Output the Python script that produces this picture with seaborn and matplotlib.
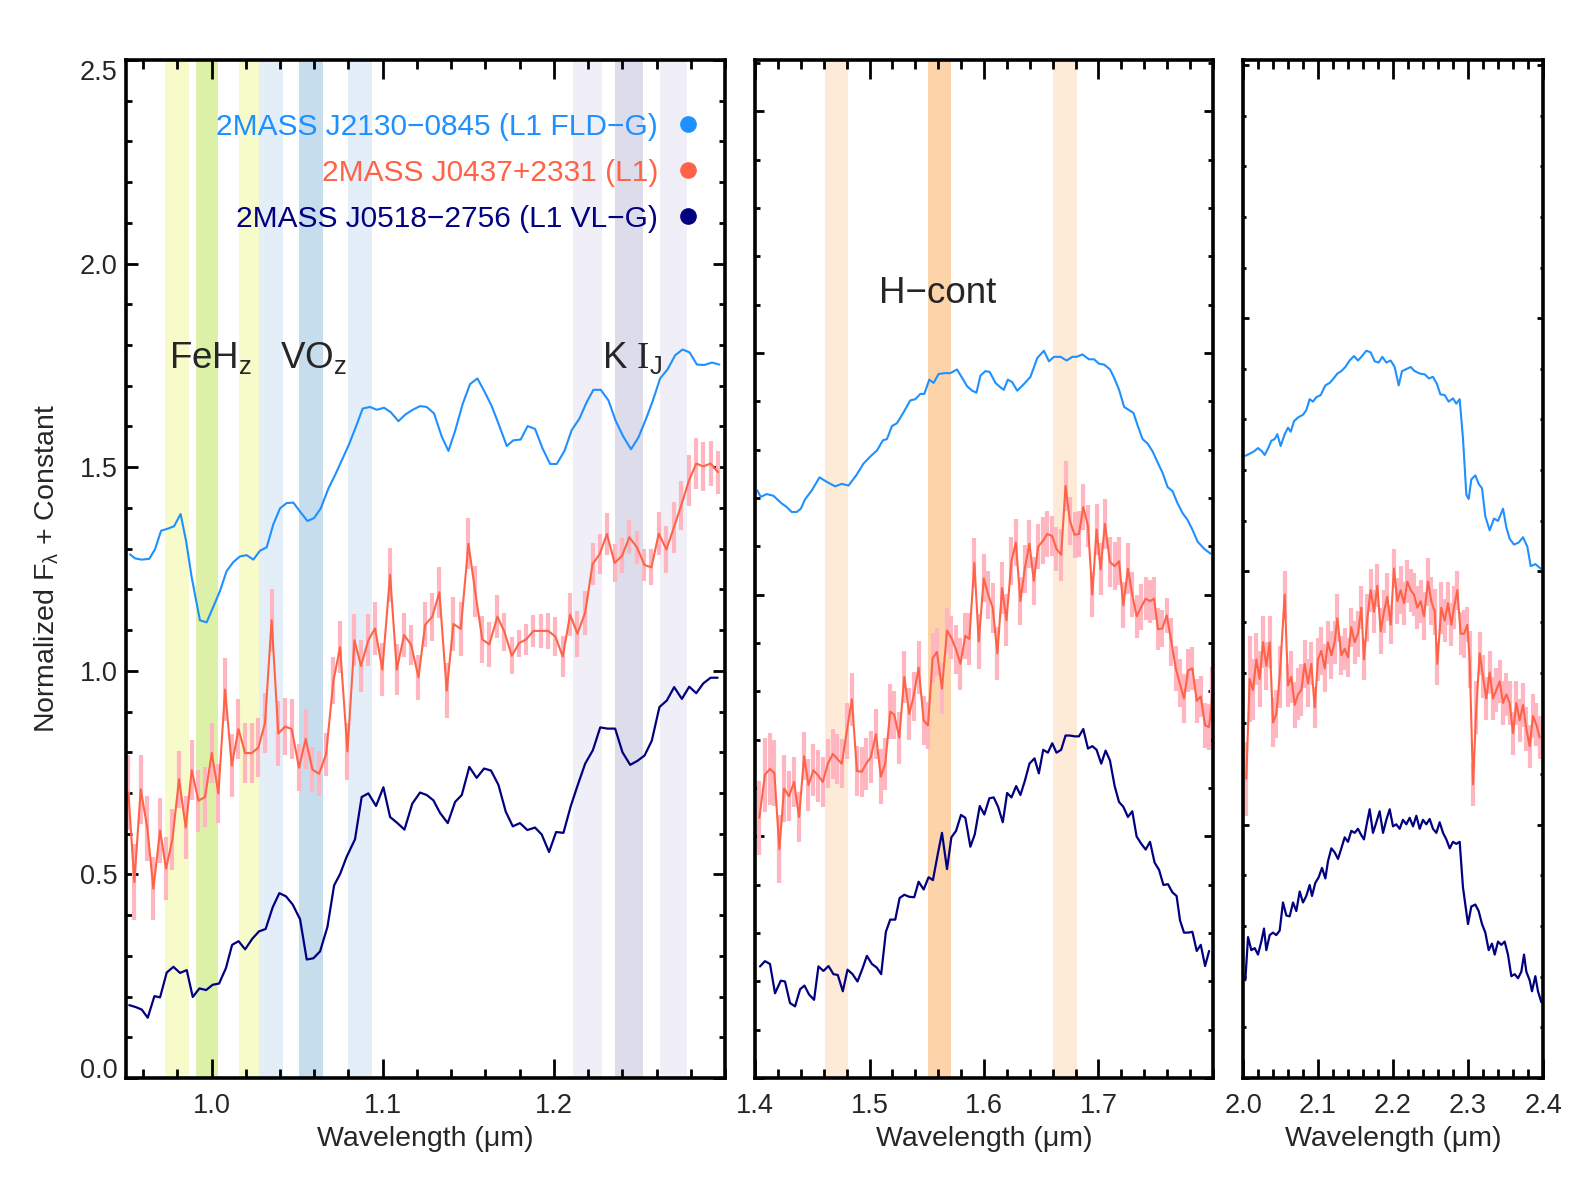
import numpy as np
import matplotlib
matplotlib.use("Agg")
import matplotlib.pyplot as plt
import seaborn as sns
from matplotlib.ticker import FixedLocator, MultipleLocator
from matplotlib.lines import Line2D

# ---------------- data ----------------
names = ["2MASS J2130\u22120845 (L1 FLD\u2212G)", "2MASS J0437+2331 (L1)", "2MASS J0518\u22122756 (L1 VL\u2212G)"]
colors = ["#1E90FF", "#FF6347", "#000080"]
err_color = "#FFB6C1"

# zJ panel
zj_wl_fld = [0.9523, 0.9553, 0.9592, 0.9636, 0.9669, 0.9705, 0.9744, 0.9781, 0.9819, 0.9851,
             0.9884, 0.9932, 0.9971, 1.0010, 1.0049, 1.0088, 1.0127, 1.0166, 1.0205, 1.0244,
             1.0283, 1.0322, 1.0361, 1.0400, 1.0439, 1.0478, 1.0517, 1.0560, 1.0599, 1.0638,
             1.0683, 1.0722, 1.0760, 1.0803, 1.0844, 1.0883, 1.0926, 1.0965, 1.1008, 1.1047,
             1.1092, 1.1131, 1.1175,
             1.1218, 1.1257, 1.1300, 1.1345, 1.1384, 1.1423, 1.1467, 1.1510, 1.1553, 1.1592,
             1.1637, 1.1680, 1.1725, 1.1763, 1.1806, 1.1847, 1.1890, 1.1933, 1.1978, 1.2017,
             1.2062, 1.2104, 1.2149, 1.2192, 1.2231, 1.2274, 1.2319, 1.2362, 1.2406, 1.2451,
             1.2494, 1.2537, 1.2578, 1.2621, 1.2664, 1.2709, 1.2752, 1.2793, 1.2836, 1.2879,
             1.2924, 1.2967]
zj_fl_fld = [1.286, 1.276, 1.273, 1.275, 1.298, 1.344, 1.349, 1.355, 1.385, 1.319,
             1.229, 1.124, 1.119, 1.157, 1.196, 1.245, 1.267, 1.281, 1.284, 1.273,
             1.295, 1.303, 1.360, 1.399, 1.412, 1.413, 1.391, 1.368, 1.375, 1.399,
             1.448, 1.481, 1.516, 1.556, 1.600, 1.644, 1.648, 1.641, 1.646, 1.635,
             1.613, 1.629, 1.641,
             1.650, 1.648, 1.632, 1.575, 1.540, 1.589, 1.655, 1.704, 1.718, 1.688,
             1.650, 1.603, 1.552, 1.566, 1.568, 1.601, 1.594, 1.547, 1.508, 1.508,
             1.540, 1.591, 1.619, 1.660, 1.690, 1.690, 1.664, 1.613, 1.575, 1.544,
             1.573, 1.617, 1.663, 1.718, 1.740, 1.775, 1.789, 1.782, 1.752, 1.751,
             1.757, 1.752]

zj_wl_fg = [0.9514, 0.9549, 0.9586, 0.9625, 0.9660, 0.9699, 0.9734, 0.9771, 0.9810, 0.9849,
            0.9884, 0.9923, 0.9962, 1.0001, 1.0040, 1.0079, 1.0118, 1.0157, 1.0196, 1.0234,
            1.0273, 1.0312, 1.0351, 1.0390, 1.0429, 1.0468, 1.0511, 1.0550, 1.0589, 1.0628,
            1.0669, 1.0712, 1.0751, 1.0794, 1.0835, 1.0873, 1.0916, 1.0955, 1.0998, 1.1043,
            1.1082, 1.1125, 1.1166, 1.1209, 1.1248,
            1.1290, 1.1331, 1.1374, 1.1413, 1.1456, 1.1501, 1.1540, 1.1582, 1.1623, 1.1670,
            1.1711, 1.1754, 1.1797, 1.1838, 1.1881, 1.1924, 1.1967, 1.2009, 1.2052, 1.2095,
            1.2138, 1.2183, 1.2226, 1.2267, 1.2310, 1.2355, 1.2398, 1.2441, 1.2486, 1.2529,
            1.2570, 1.2613, 1.2658, 1.2701, 1.2744, 1.2789, 1.2832, 1.2873, 1.2916, 1.2959]
zj_fl_fg = [0.701, 0.481, 0.709, 0.613, 0.465, 0.608, 0.514, 0.586, 0.734, 0.615,
            0.756, 0.681, 0.690, 0.798, 0.699, 0.954, 0.767, 0.857, 0.798, 0.798,
            0.811, 0.871, 1.124, 0.846, 0.863, 0.857, 0.762, 0.833, 0.758, 0.747,
            0.795, 0.976, 1.058, 0.802, 1.075, 1.012, 1.075, 1.104, 1.003, 1.236,
            1.003, 1.088, 1.064, 0.984, 1.113,
            1.133, 1.193, 0.951, 1.115, 1.103, 1.312, 1.195, 1.077, 1.065, 1.133,
            1.096, 1.037, 1.068, 1.077, 1.098, 1.098, 1.098, 1.084, 1.035, 1.138,
            1.091, 1.143, 1.262, 1.286, 1.336, 1.265, 1.282, 1.328, 1.303, 1.260,
            1.254, 1.337, 1.298, 1.352, 1.406, 1.467, 1.509, 1.502, 1.509, 1.488]
zj_er_fg = [0.091, 0.093, 0.084, 0.079, 0.077, 0.079, 0.077, 0.074, 0.070, 0.078,
            0.074, 0.076, 0.074, 0.074, 0.073, 0.078, 0.077, 0.073, 0.074, 0.074,
            0.073, 0.074, 0.077, 0.080, 0.069, 0.073, 0.058, 0.073, 0.055, 0.055,
            0.053, 0.057, 0.064, 0.071, 0.064, 0.063, 0.064, 0.064, 0.065, 0.066,
            0.063, 0.053, 0.049, 0.055, 0.055,
            0.059, 0.063, 0.068, 0.067, 0.067, 0.063, 0.063, 0.058, 0.055, 0.052,
            0.047, 0.045, 0.033, 0.038, 0.039, 0.042, 0.044, 0.048, 0.051, 0.053,
            0.057, 0.054, 0.051, 0.049, 0.052, 0.047, 0.043, 0.042, 0.041, 0.039,
            0.044, 0.052, 0.058, 0.063, 0.061, 0.062, 0.062, 0.060, 0.055, 0.053]

zj_wl_vlg = [0.9519, 0.9558, 0.9592, 0.9627, 0.9666, 0.9699, 0.9738, 0.9777, 0.9816, 0.9855,
             0.9890, 0.9929, 0.9968, 1.0007, 1.0044, 1.0084, 1.0120, 1.0158, 1.0196, 1.0238,
             1.0277, 1.0316, 1.0357, 1.0396, 1.0435, 1.0474, 1.0517, 1.0556, 1.0595, 1.0634,
             1.0677, 1.0716, 1.0751, 1.0790, 1.0838, 1.0877, 1.0916, 1.0961, 1.1004, 1.1043,
             1.1086, 1.1127, 1.1173,
             1.1218, 1.1257, 1.1296, 1.1335, 1.1380, 1.1423, 1.1462, 1.1506, 1.1549, 1.1592,
             1.1633, 1.1676, 1.1719, 1.1760, 1.1802, 1.1845, 1.1890, 1.1929, 1.1972, 1.2013,
             1.2056, 1.2099, 1.2140, 1.2183, 1.2228, 1.2271, 1.2314, 1.2358, 1.2401, 1.2446,
             1.2489, 1.2530, 1.2572, 1.2617, 1.2660, 1.2703, 1.2748, 1.2791, 1.2832, 1.2873,
             1.2916, 1.2957]
zj_fl_vlg = [0.179, 0.174, 0.168, 0.148, 0.201, 0.198, 0.259, 0.273, 0.258, 0.265,
             0.199, 0.220, 0.216, 0.229, 0.232, 0.270, 0.327, 0.336, 0.316, 0.342,
             0.360, 0.366, 0.419, 0.454, 0.446, 0.426, 0.390, 0.291, 0.294, 0.311,
             0.371, 0.473, 0.501, 0.544, 0.586, 0.690, 0.699, 0.668, 0.714, 0.641,
             0.626, 0.610, 0.674,
             0.701, 0.695, 0.682, 0.651, 0.626, 0.678, 0.695, 0.764, 0.737, 0.760,
             0.755, 0.720, 0.654, 0.618, 0.626, 0.609, 0.615, 0.598, 0.555, 0.604,
             0.602, 0.668, 0.720, 0.772, 0.805, 0.861, 0.858, 0.858, 0.800, 0.769,
             0.779, 0.792, 0.828, 0.911, 0.927, 0.960, 0.931, 0.961, 0.945, 0.969,
             0.983, 0.983]

# H panel
h_wl_fld = [1.4020, 1.4050, 1.4102, 1.4160, 1.4233, 1.4277, 1.4321, 1.4364, 1.4400, 1.4437,
            1.4496, 1.4563, 1.4627, 1.4700, 1.4758, 1.4817, 1.4884, 1.4948, 1.5006, 1.5065,
            1.5117, 1.5152, 1.5196, 1.5240, 1.5298, 1.5356, 1.5400, 1.5444, 1.5479, 1.5522,
            1.5560, 1.5604, 1.5662, 1.5706, 1.5764, 1.5808, 1.5852, 1.5896, 1.5934, 1.5969,
            1.6012, 1.6050, 1.6100, 1.6144, 1.6173, 1.6208, 1.6246, 1.6290, 1.6348, 1.6406,
            1.6465, 1.6523, 1.6567, 1.6611, 1.6669, 1.6722, 1.6771, 1.6809, 1.6859, 1.6917,
            1.6961, 1.7005, 1.7049, 1.7101, 1.7136, 1.7180, 1.7224, 1.7268, 1.7306, 1.7341,
            1.7385, 1.7429, 1.7472, 1.7516, 1.7560, 1.7604, 1.7647, 1.7691, 1.7735, 1.7779,
            1.7823, 1.7866, 1.7925, 1.7977]
h_fl_fld = [1.443, 1.427, 1.434, 1.430, 1.411, 1.402, 1.390, 1.390, 1.398, 1.421,
            1.443, 1.475, 1.464, 1.453, 1.459, 1.455, 1.480, 1.509, 1.526, 1.541,
            1.566, 1.569, 1.601, 1.608, 1.635, 1.664, 1.667, 1.680, 1.680, 1.715,
            1.707, 1.729, 1.731, 1.731, 1.740, 1.720, 1.699, 1.688, 1.683, 1.725,
            1.736, 1.734, 1.707, 1.696, 1.690, 1.715, 1.709, 1.688, 1.704, 1.722,
            1.768, 1.786, 1.760, 1.771, 1.771, 1.762, 1.771, 1.771, 1.777, 1.765,
            1.765, 1.754, 1.752, 1.740, 1.720, 1.690, 1.648, 1.640, 1.633, 1.603,
            1.569, 1.558, 1.539, 1.512, 1.486, 1.451, 1.441, 1.411, 1.387, 1.370,
            1.345, 1.317, 1.299, 1.288]

h_wl_fg = [1.4038, 1.4087, 1.4131, 1.4169, 1.4213, 1.4254, 1.4297, 1.4341, 1.4385, 1.4429,
           1.4467, 1.4510, 1.4554, 1.4592, 1.4636, 1.4680, 1.4720, 1.4758, 1.4802, 1.4846,
           1.4890, 1.4933, 1.4971, 1.5012, 1.5056, 1.5099, 1.5137, 1.5181, 1.5216, 1.5260,
           1.5304, 1.5347, 1.5385, 1.5429, 1.5473, 1.5511, 1.5551, 1.5589, 1.5633, 1.5677,
           1.5715, 1.5756, 1.5794, 1.5837, 1.5872, 1.5916, 1.5954, 1.5998, 1.6036, 1.6076,
           1.6117, 1.6158, 1.6196, 1.6240, 1.6278, 1.6318, 1.6356, 1.6397, 1.6435, 1.6473,
           1.6517, 1.6552, 1.6596, 1.6633, 1.6674, 1.6712, 1.6750, 1.6791, 1.6829, 1.6867,
           1.6908, 1.6946, 1.6983, 1.7018, 1.7056, 1.7100, 1.7141, 1.7179, 1.7217, 1.7257,
           1.7295, 1.7333, 1.7374, 1.7412, 1.7450, 1.7485, 1.7520, 1.7558, 1.7596, 1.7637,
           1.7675, 1.7710, 1.7747, 1.7782, 1.7820, 1.7858, 1.7893, 1.7931, 1.7966, 1.7995]
h_fl_fg = [0.639, 0.745, 0.759, 0.749, 0.562, 0.711, 0.692, 0.727, 0.641, 0.790,
           0.719, 0.756, 0.742, 0.727, 0.772, 0.796, 0.783, 0.772, 0.852, 0.930,
           0.754, 0.752, 0.772, 0.788, 0.844, 0.740, 0.772, 0.900, 0.892, 0.836,
           0.985, 0.894, 0.937, 1.008, 0.878, 0.866, 1.031, 1.046, 0.956, 1.099,
           1.081, 1.052, 1.017, 1.086, 1.078, 1.265, 1.072, 1.227, 1.187, 1.155,
           1.043, 1.203, 1.124, 1.269, 1.315, 1.171, 1.251, 1.312, 1.221, 1.305,
           1.320, 1.336, 1.331, 1.299, 1.285, 1.454, 1.368, 1.334, 1.336, 1.402,
           1.356, 1.187, 1.347, 1.249, 1.361, 1.267, 1.257, 1.269, 1.161, 1.251,
           1.187, 1.134, 1.157, 1.177, 1.171, 1.177, 1.102, 1.104, 1.136, 1.070,
           1.006, 0.969, 0.932, 1.001, 1.006, 0.926, 0.937, 0.866, 0.862, 0.942]
h_er_fg = [0.091, 0.091, 0.088, 0.080, 0.083, 0.083, 0.061, 0.061, 0.061, 0.059,
           0.064, 0.064, 0.064, 0.061, 0.061, 0.061, 0.061, 0.061, 0.069, 0.065,
           0.062, 0.061, 0.064, 0.064, 0.061, 0.067, 0.064, 0.068, 0.059, 0.064,
           0.064, 0.064, 0.061, 0.064, 0.060, 0.057, 0.061, 0.059, 0.063, 0.056,
           0.053, 0.061, 0.064, 0.056, 0.064, 0.061, 0.067, 0.059, 0.059, 0.061,
           0.065, 0.064, 0.064, 0.059, 0.058, 0.059, 0.059, 0.059, 0.059, 0.056,
           0.058, 0.057, 0.048, 0.053, 0.064, 0.061, 0.059, 0.056, 0.056, 0.056,
           0.052, 0.056, 0.062, 0.064, 0.061, 0.061, 0.059, 0.059, 0.056, 0.062,
           0.056, 0.053, 0.056, 0.053, 0.053, 0.053, 0.051, 0.045, 0.043, 0.059,
           0.056, 0.059, 0.061, 0.053, 0.053, 0.053, 0.051, 0.056, 0.056, 0.067]

h_wl_vlg = [1.4044, 1.4087, 1.4131, 1.4175, 1.4225, 1.4262, 1.4306, 1.4350, 1.4394, 1.4432,
            1.4472, 1.4516, 1.4554, 1.4598, 1.4642, 1.4685, 1.4723, 1.4767, 1.4808, 1.4852,
            1.4895, 1.4939, 1.4977, 1.5021, 1.5064, 1.5102, 1.5143, 1.5181, 1.5225, 1.5263,
            1.5304, 1.5347, 1.5391, 1.5429, 1.5473, 1.5516, 1.5554, 1.5595, 1.5633, 1.5677,
            1.5715, 1.5756, 1.5799, 1.5837, 1.5881, 1.5919, 1.5963, 1.6003, 1.6047, 1.6085,
            1.6123, 1.6164, 1.6202, 1.6240, 1.6281, 1.6318, 1.6356, 1.6397, 1.6441, 1.6479,
            1.6517, 1.6558, 1.6596, 1.6633, 1.6674, 1.6712, 1.6750, 1.6791, 1.6829, 1.6867,
            1.6908, 1.6946, 1.6983, 1.7024, 1.7062, 1.7100, 1.7141, 1.7179, 1.7217, 1.7257,
            1.7295, 1.7333, 1.7374, 1.7412, 1.7450, 1.7490, 1.7529, 1.7567, 1.7607, 1.7645,
            1.7682, 1.7712, 1.7747, 1.7782, 1.7820, 1.7858, 1.7893, 1.7931, 1.7966]
h_fl_vlg = [0.274, 0.287, 0.280, 0.208, 0.239, 0.237, 0.184, 0.176, 0.218, 0.227,
            0.205, 0.192, 0.274, 0.263, 0.275, 0.255, 0.253, 0.213, 0.266, 0.255,
            0.237, 0.269, 0.300, 0.280, 0.271, 0.255, 0.359, 0.389, 0.389, 0.442,
            0.450, 0.445, 0.444, 0.482, 0.463, 0.493, 0.486, 0.548, 0.602, 0.513,
            0.591, 0.607, 0.646, 0.639, 0.568, 0.598, 0.668, 0.647, 0.687, 0.689,
            0.666, 0.628, 0.700, 0.689, 0.717, 0.695, 0.729, 0.772, 0.785, 0.748,
            0.806, 0.799, 0.822, 0.799, 0.806, 0.841, 0.841, 0.839, 0.839, 0.857,
            0.809, 0.815, 0.806, 0.772, 0.804, 0.780, 0.717, 0.678, 0.666, 0.641,
            0.655, 0.593, 0.575, 0.561, 0.580, 0.529, 0.511, 0.474, 0.476, 0.456,
            0.447, 0.387, 0.357, 0.357, 0.359, 0.312, 0.327, 0.275, 0.312]

# K panel
k_wl_fld = [2.0031, 2.0089, 2.0147, 2.0200, 2.0253, 2.0289, 2.0342, 2.0378, 2.0422, 2.0458,
            2.0502, 2.0556, 2.0600, 2.0636, 2.0680, 2.0733, 2.0800, 2.0844, 2.0889, 2.0933,
            2.0978, 2.1036, 2.1098, 2.1156, 2.1209, 2.1258, 2.1311, 2.1364, 2.1422, 2.1480,
            2.1533, 2.1587, 2.1644, 2.1702, 2.1756, 2.1809, 2.1858, 2.1911, 2.1969, 2.2022,
            2.2076, 2.2120, 2.2178, 2.2236, 2.2289, 2.2356, 2.2422, 2.2480, 2.2533, 2.2587,
            2.2631, 2.2689, 2.2742, 2.2800, 2.2844, 2.2889, 2.2933, 2.2978, 2.3009, 2.3044,
            2.3098, 2.3142, 2.3187, 2.3231, 2.3289, 2.3347, 2.3400, 2.3467, 2.3511, 2.3556,
            2.3613, 2.3676, 2.3733, 2.3791, 2.3836, 2.3898, 2.3969]
k_fl_fld = [1.528, 1.533, 1.539, 1.547, 1.539, 1.530, 1.549, 1.565, 1.569, 1.581,
            1.552, 1.581, 1.597, 1.587, 1.613, 1.622, 1.629, 1.640, 1.667, 1.661,
            1.672, 1.677, 1.701, 1.707, 1.718, 1.730, 1.736, 1.746, 1.762, 1.773,
            1.762, 1.773, 1.786, 1.782, 1.760, 1.757, 1.771, 1.757, 1.762, 1.746,
            1.701, 1.736, 1.741, 1.746, 1.736, 1.730, 1.728, 1.718, 1.722, 1.704,
            1.679, 1.677, 1.661, 1.669, 1.656, 1.667, 1.571, 1.432, 1.422, 1.470,
            1.480, 1.459, 1.448, 1.379, 1.345, 1.374, 1.368, 1.398, 1.352, 1.324,
            1.310, 1.315, 1.328, 1.305, 1.257, 1.262, 1.251]

k_wl_fg = [2.0044, 2.0089, 2.0133, 2.0178, 2.0222, 2.0267, 2.0311, 2.0356, 2.0400, 2.0444,
           2.0489, 2.0556, 2.0600, 2.0644, 2.0689, 2.0733, 2.0778, 2.0822, 2.0867, 2.0911,
           2.0956, 2.1000, 2.1044, 2.1089, 2.1133, 2.1178, 2.1222, 2.1258, 2.1311, 2.1356,
           2.1400, 2.1444, 2.1489, 2.1533, 2.1578, 2.1613, 2.1658, 2.1702, 2.1747, 2.1791,
           2.1836, 2.1880, 2.1924, 2.1969, 2.2013, 2.2058, 2.2102, 2.2147, 2.2191, 2.2236,
           2.2280, 2.2324, 2.2369, 2.2413, 2.2467, 2.2511, 2.2556, 2.2591, 2.2644, 2.2689,
           2.2733, 2.2778, 2.2813, 2.2858, 2.2902, 2.2947, 2.2991, 2.3022, 2.3067, 2.3111,
           2.3156, 2.3200, 2.3244, 2.3289, 2.3333, 2.3378, 2.3422, 2.3467, 2.3511, 2.3556,
           2.3600, 2.3644, 2.3689, 2.3733, 2.3778, 2.3822, 2.3867, 2.3911, 2.3956]
k_fl_fg = [0.735, 0.980, 0.953, 1.028, 0.980, 1.070, 1.012, 1.070, 0.873, 0.894,
           0.985, 1.187, 0.964, 0.985, 0.916, 0.942, 0.953, 1.017, 0.969, 1.017,
           0.910, 1.028, 1.049, 1.006, 1.070, 1.038, 1.070, 1.129, 1.038, 1.054,
           1.033, 1.107, 1.070, 1.091, 1.155, 1.028, 1.129, 1.198, 1.145, 1.209,
           1.097, 1.145, 1.182, 1.113, 1.251, 1.171, 1.198, 1.166, 1.219, 1.198,
           1.187, 1.155, 1.171, 1.134, 1.219, 1.171, 1.145, 1.017, 1.155, 1.123,
           1.166, 1.113, 1.155, 1.198, 1.091, 1.091, 1.113, 1.028, 0.721, 0.910,
           1.043, 0.985, 0.932, 0.996, 0.932, 0.953, 0.974, 0.921, 0.942, 0.921,
           0.847, 0.921, 0.878, 0.916, 0.857, 0.815, 0.889, 0.868, 0.836]
k_er_fg = [0.091, 0.106, 0.075, 0.064, 0.069, 0.064, 0.059, 0.064, 0.059, 0.059,
           0.077, 0.059, 0.053, 0.064, 0.056, 0.064, 0.064, 0.059, 0.059, 0.053,
           0.051, 0.053, 0.059, 0.059, 0.053, 0.059, 0.053, 0.059, 0.048, 0.051,
           0.048, 0.048, 0.053, 0.056, 0.053, 0.051, 0.059, 0.053, 0.053, 0.053,
           0.056, 0.053, 0.059, 0.048, 0.048, 0.056, 0.059, 0.053, 0.053, 0.053,
           0.053, 0.053, 0.053, 0.059, 0.059, 0.059, 0.056, 0.053, 0.064, 0.053,
           0.053, 0.053, 0.053, 0.048, 0.053, 0.059, 0.043, 0.070, 0.053, 0.064,
           0.053, 0.053, 0.053, 0.053, 0.053, 0.053, 0.053, 0.053, 0.053, 0.053,
           0.053, 0.053, 0.053, 0.053, 0.053, 0.053, 0.053, 0.053, 0.053]

k_wl_vlg = [2.0031, 2.0067, 2.0111, 2.0156, 2.0200, 2.0244, 2.0280, 2.0311, 2.0356, 2.0400,
            2.0444, 2.0489, 2.0533, 2.0578, 2.0622, 2.0667, 2.0711, 2.0756, 2.0800, 2.0844,
            2.0889, 2.0920, 2.0964, 2.1009, 2.1053, 2.1098, 2.1133, 2.1178, 2.1222, 2.1267,
            2.1311, 2.1356, 2.1400, 2.1444, 2.1489, 2.1533, 2.1578, 2.1613, 2.1644, 2.1689,
            2.1733, 2.1778, 2.1822, 2.1867, 2.1911, 2.1956, 2.2000, 2.2044, 2.2089, 2.2133,
            2.2178, 2.2222, 2.2267, 2.2311, 2.2356, 2.2400, 2.2444, 2.2489, 2.2533, 2.2578,
            2.2622, 2.2667, 2.2711, 2.2756, 2.2800, 2.2844, 2.2889, 2.2933, 2.3000, 2.3044,
            2.3098, 2.3142, 2.3187, 2.3231, 2.3276, 2.3320, 2.3356, 2.3400, 2.3444, 2.3489,
            2.3533, 2.3578, 2.3622, 2.3667, 2.3711, 2.3747, 2.3778, 2.3822, 2.3853, 2.3898,
            2.3933, 2.3978]
k_fl_vlg = [0.240, 0.346, 0.314, 0.319, 0.303, 0.335, 0.367, 0.314, 0.351, 0.357,
            0.351, 0.362, 0.431, 0.399, 0.397, 0.431, 0.410, 0.458, 0.431, 0.447,
            0.474, 0.447, 0.479, 0.493, 0.516, 0.490, 0.532, 0.564, 0.554, 0.538,
            0.564, 0.591, 0.580, 0.607, 0.602, 0.612, 0.596, 0.586, 0.618, 0.660,
            0.602, 0.628, 0.655, 0.602, 0.634, 0.660, 0.618, 0.623, 0.612, 0.634,
            0.623, 0.639, 0.618, 0.644, 0.612, 0.634, 0.623, 0.636, 0.612, 0.602,
            0.628, 0.602, 0.586, 0.564, 0.580, 0.575, 0.580, 0.468, 0.378, 0.421,
            0.426, 0.410, 0.378, 0.357, 0.314, 0.330, 0.303, 0.335, 0.327, 0.335,
            0.303, 0.250, 0.255, 0.245, 0.261, 0.303, 0.261, 0.240, 0.213, 0.250,
            0.213, 0.186]

# feature bands
zj_band_lo = [0.973, 0.991, 1.016, 1.028, 1.051, 1.080, 1.211, 1.236, 1.262]
zj_band_hi = [0.987, 1.004, 1.028, 1.042, 1.065, 1.094, 1.228, 1.252, 1.278]
zj_band_col = ["#F7FAC9", "#DDF0A8", "#F7FAC9", "#E4EEF8", "#C6DDEE", "#E4EEF8",
               "#F0EEF6", "#DCDCEA", "#F0EEF6"]
h_band_lo = [1.461, 1.551, 1.660]
h_band_hi = [1.481, 1.571, 1.681]
h_band_col = ["#FDEBD8", "#FDD4AA", "#FDEBD8"]

# ---------------- style ----------------
sns.set_style("ticks")
plt.rcParams["font.family"] = ["Liberation Sans", "DejaVu Sans"]
plt.rcParams["mathtext.fontset"] = "custom"
plt.rcParams["mathtext.rm"] = "Liberation Serif"
plt.rcParams["mathtext.it"] = "Liberation Sans:italic"
plt.rcParams["mathtext.bf"] = "Liberation Sans:bold"

TICK_FS = 19.5
LAB_FS = 20.5

fig = plt.figure(figsize=(15.75, 12), dpi=100)
W, H = 1575.0, 1200.0
bot = 1 - 1078 / H
hgt = (1078 - 60) / H
ax1 = fig.add_axes([126 / W, bot, 599 / W, hgt])
ax2 = fig.add_axes([755 / W, bot, 458 / W, hgt])
ax3 = fig.add_axes([1243 / W, bot, 300 / W, hgt])


def draw_line(ax, x, y, color, lw):
    sns.lineplot(x=x, y=y, ax=ax, color=color, linewidth=lw,
                 estimator=None, sort=False, zorder=4)


def draw_err(ax, x, y, e):
    ax.errorbar(x, y, yerr=e, fmt="none", ecolor=err_color, elinewidth=3.0,
                capsize=0, zorder=2)


for lo, hi, c in zip(zj_band_lo, zj_band_hi, zj_band_col):
    ax1.axvspan(lo, hi, color=c, lw=0, zorder=0)
for lo, hi, c in zip(h_band_lo, h_band_hi, h_band_col):
    ax2.axvspan(lo, hi, color=c, lw=0, zorder=0)

draw_err(ax1, zj_wl_fg, zj_fl_fg, zj_er_fg)
draw_line(ax1, zj_wl_fld, zj_fl_fld, colors[0], 1.5)
draw_line(ax1, zj_wl_fg, zj_fl_fg, colors[1], 1.5)
draw_line(ax1, zj_wl_vlg, zj_fl_vlg, colors[2], 1.6)

draw_err(ax2, h_wl_fg, h_fl_fg, h_er_fg)
draw_line(ax2, h_wl_fld, h_fl_fld, colors[0], 1.5)
draw_line(ax2, h_wl_fg, h_fl_fg, colors[1], 1.5)
draw_line(ax2, h_wl_vlg, h_fl_vlg, colors[2], 1.6)

draw_err(ax3, k_wl_fg, k_fl_fg, k_er_fg)
draw_line(ax3, k_wl_fld, k_fl_fld, colors[0], 1.5)
draw_line(ax3, k_wl_fg, k_fl_fg, colors[1], 1.5)
draw_line(ax3, k_wl_vlg, k_fl_vlg, colors[2], 1.6)

# axes limits and ticks
ax1.set_xlim(0.95, 1.30)
ax2.set_xlim(1.40, 1.80)
ax3.set_xlim(2.00, 2.40)
for ax in (ax1, ax2, ax3):
    ax.set_ylim(0, 2.5)
    for s in ax.spines.values():
        s.set_linewidth(2.6)
        s.set_color("black")
        s.set_visible(True)
        s.set_zorder(6)
    ax.xaxis.set_minor_locator(MultipleLocator(0.02))
    ax.tick_params(axis="x", which="both", direction="in", top=True, bottom=True,
                   width=2.0, color="black", labelsize=TICK_FS, pad=11)
    ax.tick_params(axis="x", which="major", length=13.7)
    ax.tick_params(axis="x", which="minor", length=6.5)
    ax.tick_params(axis="y", which="both", direction="in", left=True, right=True,
                   width=2.0, color="black", labelsize=TICK_FS, pad=6)
    ax.set_xlabel("Wavelength (\u03bcm)", fontsize=LAB_FS, labelpad=4.5)
    ax.set_ylabel("")
    ax.grid(False)

ax1.xaxis.set_major_locator(FixedLocator([1.0, 1.1, 1.2]))
ax1.set_xticklabels(["1.0", "1.1", "1.2"])
ax2.xaxis.set_major_locator(FixedLocator([1.4, 1.5, 1.6, 1.7]))
ax2.set_xticklabels(["1.4", "1.5", "1.6", "1.7"])
ax3.xaxis.set_major_locator(FixedLocator([2.0, 2.1, 2.2, 2.3, 2.4]))
ax3.set_xticklabels(["2.0", "2.1", "2.2", "2.3", "2.4"])

ax1.yaxis.set_major_locator(FixedLocator([0.0, 0.5, 1.0, 1.5, 2.0, 2.5]))
ax1.yaxis.set_minor_locator(MultipleLocator(0.1))
ytl = ax1.set_yticklabels(["0.0", "0.5", "1.0", "1.5", "2.0", "2.5"])
ytl[0].set_va("baseline")
ytl[-1].set_va("top")
ax1.tick_params(axis="y", which="major", length=8.6)
ax1.tick_params(axis="y", which="minor", length=4.3)

# right panels carry their own (unlabelled) flux tick spacing
ax2.yaxis.set_major_locator(FixedLocator([0.0, 0.5935, 1.187, 1.7805, 2.374]))
ax2.yaxis.set_minor_locator(FixedLocator(list(np.arange(0, 2.5, 0.1187))))
ax2.tick_params(axis="y", which="major", length=6.5, labelleft=False)
ax2.tick_params(axis="y", which="minor", length=3.3)
ax3.yaxis.set_major_locator(FixedLocator([0.0, 0.622, 1.244, 1.866, 2.488]))
ax3.yaxis.set_minor_locator(FixedLocator(list(np.arange(0, 2.5, 0.1244))))
ax3.tick_params(axis="y", which="major", length=4.3, labelleft=False)
ax3.tick_params(axis="y", which="minor", length=2.2)

ax1.set_ylabel(r"Normalized F$_{\mathregular{\lambda}}$ + Constant", fontsize=LAB_FS)
ax1.yaxis.set_label_coords(-0.108, 0.5)

# feature labels
ax1.text(0.9753, 1.744, r"FeH$_{\mathregular{z}}$", fontsize=26.5, ha="left", va="baseline")
ax1.text(1.0400, 1.744, r"VO$_{\mathregular{z}}$", fontsize=26.5, ha="left", va="baseline")
ax1.text(1.2280, 1.744, r"K $\mathrm{I}_{\mathregular{J}}$", fontsize=26.5, ha="left", va="baseline")
ax2.text(1.5085, 1.903, "H\u2212cont", fontsize=26.5, ha="left", va="baseline")

# legend: text then coloured dot, right aligned
handles = [Line2D([], [], marker="o", linestyle="none", color=c, markersize=11) for c in colors]
leg = ax1.legend(handles, names, loc="upper right", bbox_to_anchor=(0.9528, 0.948),
                 frameon=False, markerfirst=False, fontsize=21.5, handlelength=0.6,
                 handletextpad=0.7, labelspacing=0.6, borderpad=0, borderaxespad=0,
                 labelcolor=colors)

fig.savefig("out.png", dpi=100, facecolor="white")
